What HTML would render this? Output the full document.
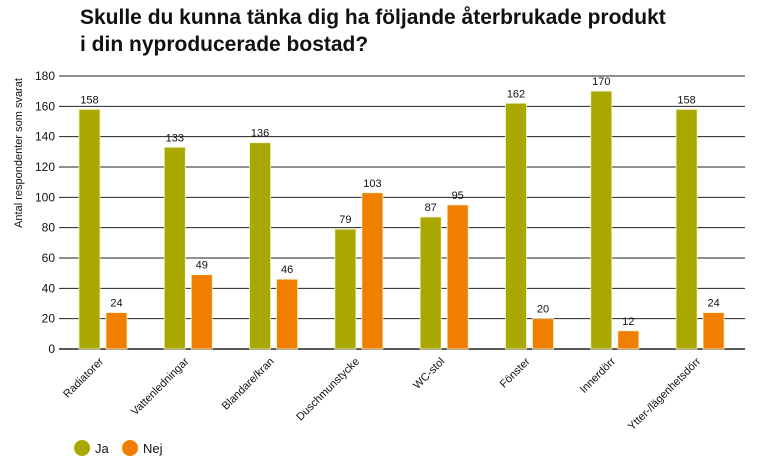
<!DOCTYPE html>
<html><head><meta charset="utf-8"><style>
body{margin:0;background:#fff;font-family:"Liberation Sans",sans-serif}
</style></head><body>
<svg width="768" height="462" xmlns="http://www.w3.org/2000/svg" font-family="Liberation Sans, sans-serif">
<text x="80" y="24" font-size="21" font-weight="bold" fill="#111">Skulle du kunna tänka dig ha följande återbrukade produkt</text>
<text x="80" y="51" font-size="21" font-weight="bold" fill="#111">i din nyproducerade bostad?</text>
<text transform="translate(22,153) rotate(-90)" text-anchor="middle" font-size="11" fill="#111">Antal respondenter som svarat</text>
<g id="grid"></g><g id="bars"></g><g id="labels"></g>
<g>
<circle cx="82" cy="448" r="8" fill="#a9a800"/>
<text x="95" y="453" font-size="13" fill="#111">Ja</text>
<circle cx="130" cy="448" r="8" fill="#f07f00"/>
<text x="143" y="453" font-size="13" fill="#111">Nej</text>
</g>
</svg>
<script>
const categories=["Radiatorer","Vattenledningar","Blandare/kran","Duschmunstycke","WC-stol","Fönster","Innerdörr","Ytter-/lägenhetsdörr"];
const jaValues=[158,133,136,79,87,162,170,158];
const nejValues=[24,49,46,103,95,20,12,24];
const yTicks=[0,20,40,60,80,100,120,140,160,180];
const NS="http://www.w3.org/2000/svg";
const y0=349,yTop=76,yMax=180,x0=62,groupW=85.3;
const y=v=>y0-(v/yMax)*(y0-yTop);
const gx=i=>x0+i*groupW;
function mk(t,a,p){const e=document.createElementNS(NS,t);for(const k in a)e.setAttribute(k,a[k]);p.appendChild(e);return e;}
const grid=document.getElementById('grid'),bars=document.getElementById('bars'),labels=document.getElementById('labels');
yTicks.forEach(t=>{
 const l=mk('line',{x1:59,x2:745,y1:y(t),y2:y(t),stroke:'#222','stroke-width':t===0?1.5:1},grid);
 
 
 const tx=mk('text',{x:55,y:y(t)+4,'text-anchor':'end','font-size':12,fill:'#111'},grid);
 tx.textContent=t;
 
 
});
categories.forEach((c,i)=>{
 [[jaValues[i],17,'#a9a800','ja'],[nejValues[i],44,'#f07f00','nej']].forEach(([v,off,col,s])=>{
  const r=mk('rect',{x:gx(i)+off,y:y(v),width:21,height:y0-y(v),fill:col,stroke:'#f4f0c8','stroke-width':0.8},bars);
  
  
  const t=mk('text',{x:gx(i)+off+10.5,y:y(v)-6,'text-anchor':'middle','font-size':11,fill:'#111'},labels);
  t.textContent=v;
  
  
 });
 const cx=gx(i)+42;
 const ct=mk('text',{transform:`translate(${cx},362) rotate(-45)`,'text-anchor':'end','font-size':11,fill:'#111'},labels);
 ct.textContent=c;
 
 
});
</script>
</body></html>
